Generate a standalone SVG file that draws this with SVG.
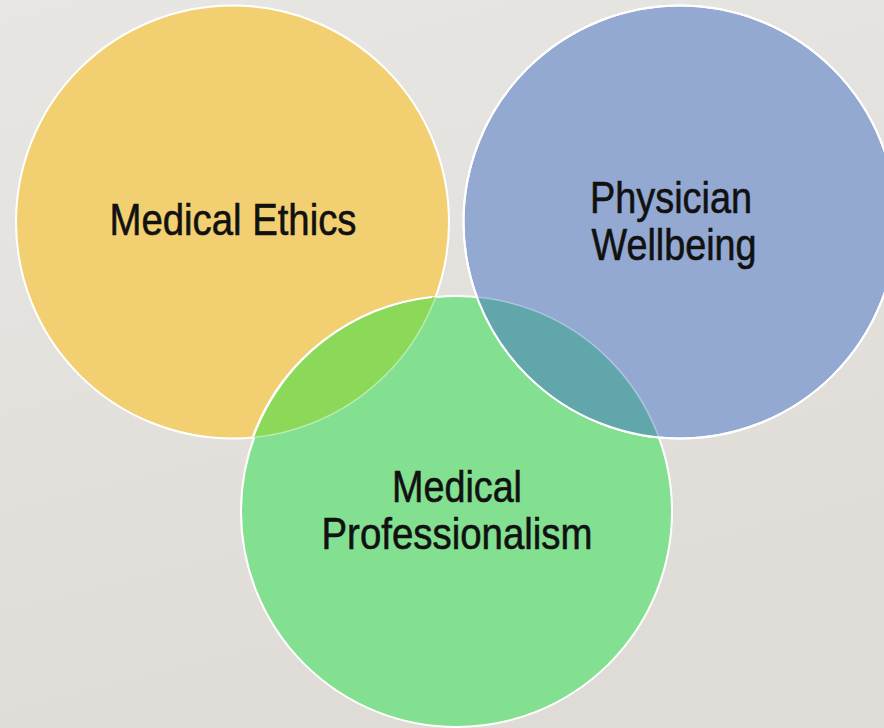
<svg xmlns="http://www.w3.org/2000/svg" width="884" height="728" viewBox="0 0 884 728">
  <style>
    .lbl { font-family: "Liberation Sans", Arial, sans-serif; font-size: 44px; fill: #111; stroke: #111; stroke-width: 0.6; text-anchor: middle; }
    .edge { fill: none; stroke: #ffffff; stroke-width: 2; }
  </style>
  <defs>
    <linearGradient id="bg" x1="0" y1="0" x2="0.3" y2="1">
      <stop offset="0" stop-color="#e8e6e3"/>
      <stop offset="1" stop-color="#dfdcd7"/>
    </linearGradient>
    <clipPath id="clipY"><circle cx="232.5" cy="222" r="216.5"/></clipPath>
    <clipPath id="clipG"><circle cx="456.5" cy="511.5" r="215.5"/></clipPath>
    <clipPath id="clipB"><circle cx="680" cy="222" r="216.5"/></clipPath>
  </defs>
  <rect x="0" y="0" width="884" height="728" fill="url(#bg)"/>

  <g id="medical-ethics">
    <circle cx="232.5" cy="222" r="216.5" class="edge" style="fill:#f2d071"/>
  </g>

  <g id="medical-professionalism">
    <circle cx="456.5" cy="511.5" r="215.5" class="edge" style="fill:#82e090"/>
    <circle cx="456.5" cy="511.5" r="215.5" fill="#8cd95a" clip-path="url(#clipY)"/>
    <circle cx="232.5" cy="222" r="216.5" fill="none" stroke="#b8ecb0" stroke-width="1.5" clip-path="url(#clipG)"/>
    <path d="M 253 436 A 215.5 215.5 0 0 1 432 297" class="edge"/>
  </g>

  <g id="physician-wellbeing">
    <circle cx="680" cy="222" r="216.5" style="fill:#93a9d1" class="edge"/>
    <circle cx="680" cy="222" r="216.5" fill="#61a6ab" clip-path="url(#clipG)"/>
    <circle cx="456.5" cy="511.5" r="215.5" fill="none" stroke="#a9c6dc" stroke-width="1.5" clip-path="url(#clipB)"/>
    <circle cx="680" cy="222" r="216.5" class="edge"/>
  </g>

  <g id="labels">
    <text class="lbl" x="233" y="235" textLength="247" lengthAdjust="spacingAndGlyphs">Medical Ethics</text>
    <text class="lbl" x="671" y="213" textLength="162" lengthAdjust="spacingAndGlyphs">Physician</text>
    <text class="lbl" x="674" y="260" textLength="165" lengthAdjust="spacingAndGlyphs">Wellbeing</text>
    <text class="lbl" x="457" y="502" textLength="130" lengthAdjust="spacingAndGlyphs">Medical</text>
    <text class="lbl" x="457" y="549" textLength="271" lengthAdjust="spacingAndGlyphs">Professionalism</text>
  </g>
  <g id="connectors"/>
</svg>
